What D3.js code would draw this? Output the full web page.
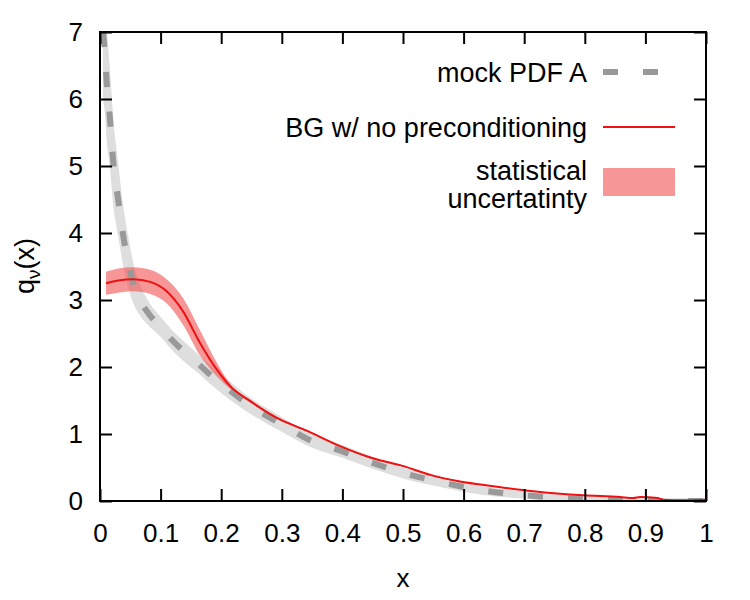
<!DOCTYPE html>
<html>
<head>
<meta charset="utf-8">
<script src="https://cdn.jsdelivr.net/npm/d3@7"></script>
<style>
  body { margin: 0; background: #fff; }
  svg text { font-family: "Liberation Sans", Arial, Helvetica, sans-serif; fill: #000; }
</style>
</head>
<body>
<svg id="chart" width="750" height="600"></svg>
<script>
/* values */
const xTicks = [0, 0.1, 0.2, 0.3, 0.4, 0.5, 0.6, 0.7, 0.8, 0.9, 1];
const yTicks = [0, 1, 2, 3, 4, 5, 6, 7];

// mock PDF A (grey dashed) and the half-width of its light grey band
const mockX = [0.005, 0.008, 0.011, 0.016, 0.022, 0.030, 0.038, 0.047, 0.055, 0.065, 0.08, 0.1, 0.118, 0.14, 0.162, 0.18, 0.203, 0.25, 0.297, 0.345, 0.4, 0.45, 0.5, 0.569, 0.63, 0.69, 0.756, 0.822, 0.888, 0.954, 1.0];
const mockY = [7.0, 6.7, 6.25, 5.75, 5.05, 4.5, 3.98, 3.55, 3.25, 3.02, 2.8, 2.6, 2.41, 2.22, 2.05, 1.9, 1.73, 1.41, 1.16, 0.915, 0.74, 0.57, 0.42, 0.27, 0.16, 0.095, 0.046, 0.02, 0.006, 0.0, 0.0];
const mockErr = [1.0, 0.9, 0.85, 0.75, 0.65, 0.55, 0.45, 0.38, 0.3, 0.24, 0.18, 0.15, 0.15, 0.15, 0.14, 0.14, 0.14, 0.12, 0.11, 0.1, 0.095, 0.09, 0.085, 0.075, 0.065, 0.055, 0.05, 0.045, 0.04, 0.04, 0.04];

// BG w/ no preconditioning (red) and its statistical uncertainty
const bgX = [0.01, 0.03, 0.055, 0.083, 0.11, 0.137, 0.165, 0.193, 0.215, 0.248, 0.292, 0.341, 0.396, 0.446, 0.501, 0.545, 0.594, 0.649, 0.715, 0.797, 0.858, 0.88, 0.891, 0.92, 0.929, 0.962, 1.0];
const bgY = [3.25, 3.29, 3.31, 3.27, 3.13, 2.83, 2.36, 1.96, 1.71, 1.49, 1.24, 1.05, 0.82, 0.65, 0.52, 0.39, 0.29, 0.22, 0.145, 0.085, 0.06, 0.045, 0.06, 0.045, 0.02, 0.01, 0.02];
const bgErr = [0.17, 0.18, 0.18, 0.18, 0.18, 0.2, 0.19, 0.1, 0.04, 0.02, 0.015, 0.012, 0.01, 0.01, 0.01, 0.008, 0.008, 0.006, 0.005, 0.005, 0.005, 0.005, 0.005, 0.005, 0.005, 0.005, 0.005];

const legendLabels = ["mock PDF A", "BG w/ no preconditioning", ["statistical", "uncertatinty"]];

const margin = {left: 100, right: 44, top: 32, bottom: 99};
const W = 750, H = 600;
const innerW = W - margin.left - margin.right;
const innerH = H - margin.top - margin.bottom;
const FONT = 26;

const svg = d3.select("#chart");
const g = svg.append("g").attr("transform", `translate(${margin.left},${margin.top})`);

const x = d3.scaleLinear().domain([0, 1]).range([0, innerW]);
const y = d3.scaleLinear().domain([0, 7]).range([innerH, 0]);

g.append("clipPath").attr("id", "clip")
  .append("rect").attr("width", innerW).attr("height", innerH);

const plot = g.append("g").attr("clip-path", "url(#clip)");

const mock = mockX.map((d, i) => ({x: d, y: mockY[i], e: mockErr[i]}));
const bg = bgX.map((d, i) => ({x: d, y: bgY[i], e: bgErr[i]}));

const line = d3.line().x(d => x(d.x)).y(d => y(d.y)).curve(d3.curveMonotoneX);
const band = d3.area().x(d => x(d.x)).y0(d => y(d.y - d.e)).y1(d => y(d.y + d.e)).curve(d3.curveMonotoneX);

// light grey band around the mock PDF
plot.append("path")
  .datum(mock)
  .attr("d", band)
  .attr("fill", "#dedede");

// red uncertainty band
plot.append("path")
  .datum(bg)
  .attr("d", band)
  .attr("fill", "rgb(240,80,80)")
  .attr("fill-opacity", 0.6);

// mock PDF A dashed
plot.append("path")
  .datum(mock)
  .attr("d", line)
  .attr("fill", "none")
  .attr("stroke", "#999")
  .attr("stroke-width", 6)
  .attr("stroke-dasharray", "15,25");

// red central line
plot.append("path")
  .datum(bg)
  .attr("d", line)
  .attr("fill", "none")
  .attr("stroke", "#ee1111")
  .attr("stroke-width", 2);

/* axes: ticks inside on all four sides */
const fmt = d => d3.format("~g")(d);
const axes = [
  g.append("g").attr("transform", `translate(0,${innerH})`)
    .call(d3.axisBottom(x).tickValues(xTicks).tickFormat(fmt).tickSizeInner(-12).tickSizeOuter(0).tickPadding(23)),
  g.append("g")
    .call(d3.axisLeft(y).tickValues(yTicks).tickFormat(fmt).tickSizeInner(-12).tickSizeOuter(0).tickPadding(17)),
  g.append("g")
    .call(d3.axisTop(x).tickValues(xTicks).tickFormat("").tickSizeInner(-12).tickSizeOuter(0)),
  g.append("g").attr("transform", `translate(${innerW},0)`)
    .call(d3.axisRight(y).tickValues(yTicks).tickFormat("").tickSizeInner(-12).tickSizeOuter(0))
];
axes.forEach(a => a.attr("font-size", FONT).attr("font-family", null));

g.selectAll(".domain").remove();
g.selectAll(".tick line").attr("stroke", "#000").attr("stroke-width", 2);

g.append("rect")
  .attr("width", innerW).attr("height", innerH)
  .attr("fill", "none").attr("stroke", "#000").attr("stroke-width", 2);

// axis titles
svg.append("text")
  .attr("x", margin.left + innerW / 2).attr("y", 587)
  .attr("text-anchor", "middle").attr("font-size", FONT)
  .text("x");

const yl = svg.append("text")
  .attr("transform", "translate(34,266) rotate(-90)")
  .attr("text-anchor", "middle").attr("font-size", 27);
yl.append("tspan").text("q");
yl.append("tspan").attr("dy", 6).attr("font-size", 19).text("ν");
yl.append("tspan").attr("dy", -6).text("(x)");

/* legend */
const leg = svg.append("g").attr("font-size", 27);
const textRight = 587, sampleL = 603, sampleR = 675;

leg.append("text").attr("x", textRight).attr("y", 82).attr("text-anchor", "end").text(legendLabels[0]);
leg.append("line").attr("x1", sampleL).attr("x2", sampleR).attr("y1", 72).attr("y2", 72)
  .attr("stroke", "#999").attr("stroke-width", 6).attr("stroke-dasharray", "15,25");

leg.append("text").attr("x", textRight).attr("y", 137).attr("text-anchor", "end").text(legendLabels[1]);
leg.append("line").attr("x1", sampleL).attr("x2", sampleR).attr("y1", 127).attr("y2", 127)
  .attr("stroke", "#ee1111").attr("stroke-width", 2);

leg.append("text").attr("x", textRight).attr("y", 180).attr("text-anchor", "end").text(legendLabels[2][0]);
leg.append("text").attr("x", textRight).attr("y", 208).attr("text-anchor", "end").text(legendLabels[2][1]);
leg.append("rect").attr("x", sampleL).attr("y", 168).attr("width", sampleR - sampleL).attr("height", 28)
  .attr("fill", "rgb(240,80,80)").attr("fill-opacity", 0.6);
</script>
</body>
</html>
